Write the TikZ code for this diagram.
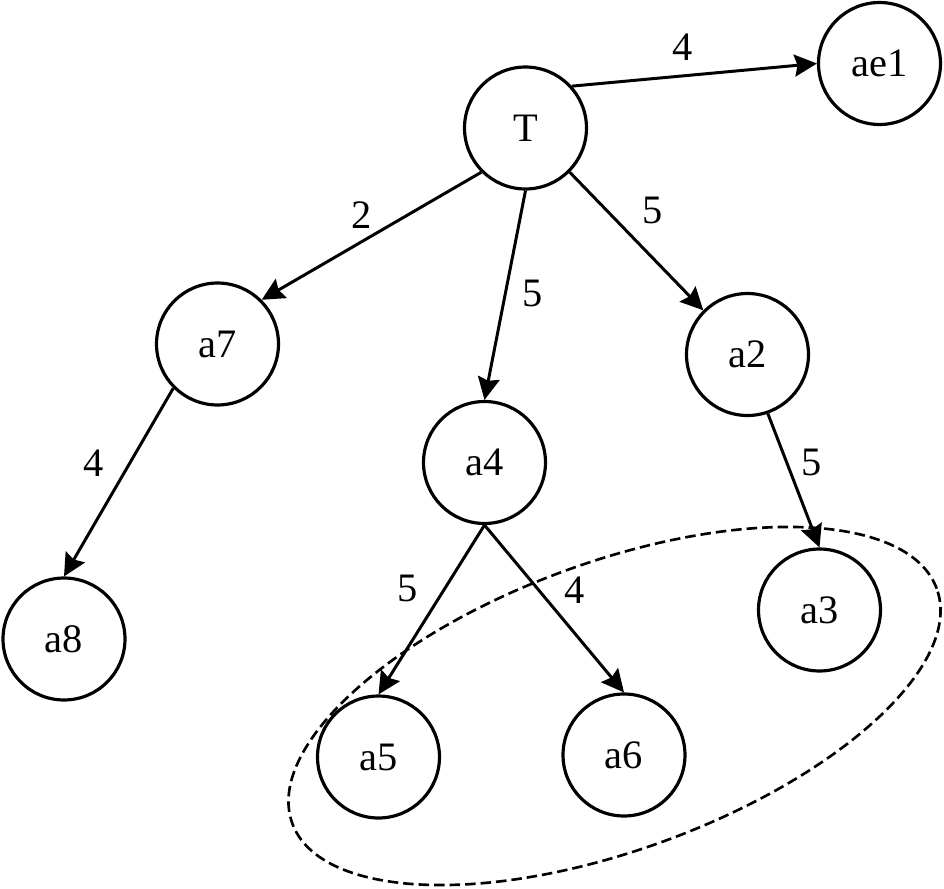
\documentclass[tikz,border=0pt]{standalone}
\usepackage{fontspec}
\setmainfont{Liberation Serif}
\usetikzlibrary{arrows.meta,shapes.geometric}
\tikzset{
  vtx/.style={circle, draw, line width=1.8pt, minimum size=2.44cm, inner sep=0pt,
    font=\fontsize{23}{27}\selectfont},
  arr/.style={line width=1.7pt, -{Stealth[length=0.45cm, width=0.44cm, inset=0.06cm]}},
  lbl/.style={inner sep=0pt, font=\fontsize{23}{27}\selectfont},
  grpstyle/.style={ellipse, draw, dashed, dash pattern=on 0.21cm off 0.1cm, line width=1.5pt,
    minimum width=13.72cm, minimum height=5.76cm, inner sep=0pt, rotate=20}
}
\begin{document}
\begin{tikzpicture}[x=0.02cm, y=-0.02cm]
\useasboundingbox (0,0) rectangle (944,889);
\node[vtx] (T) at (525.5,128) {T};
\node[vtx] (ae1) at (879.5,63.5) {ae1};
\node[vtx] (a7) at (217.5,344) {a7};
\node[vtx] (a4) at (484.5,462.5) {a4};
\node[vtx] (a2) at (747.5,354.5) {a2};
\node[vtx] (a8) at (64,639) {a8};
\node[vtx] (a3) at (819.5,610) {a3};
\node[vtx] (a5) at (378.5,757) {a5};
\node[vtx] (a6) at (624,755) {a6};
\node[grpstyle] (grp) at (614.5,706) {};
\draw[arr] (T.42) -- (ae1.180);
\draw[arr] (T.225) -- (a7.45);
\draw[arr] (T.270) -- (a4.90);
\draw[arr] (T.315) -- (a2.135);
\draw[arr] (a7.225) -- (a8.90);
\draw[arr] (a2.289) -- (a3.90);
\draw[arr] (a4.270) -- (a5.90);
\draw[arr] (a4.270) -- (a6.90);
\node[lbl] (l1) at (683,47) {4};
\node[lbl] (l2) at (362,215) {2};
\node[lbl] (l3) at (533,293) {5};
\node[lbl] (l4) at (653,210) {5};
\node[lbl] (l5) at (94,463) {4};
\node[lbl] (l6) at (812,462) {5};
\node[lbl] (l7) at (408,588) {5};
\node[lbl] (l8) at (575,590) {4};
\end{tikzpicture}
\end{document}
